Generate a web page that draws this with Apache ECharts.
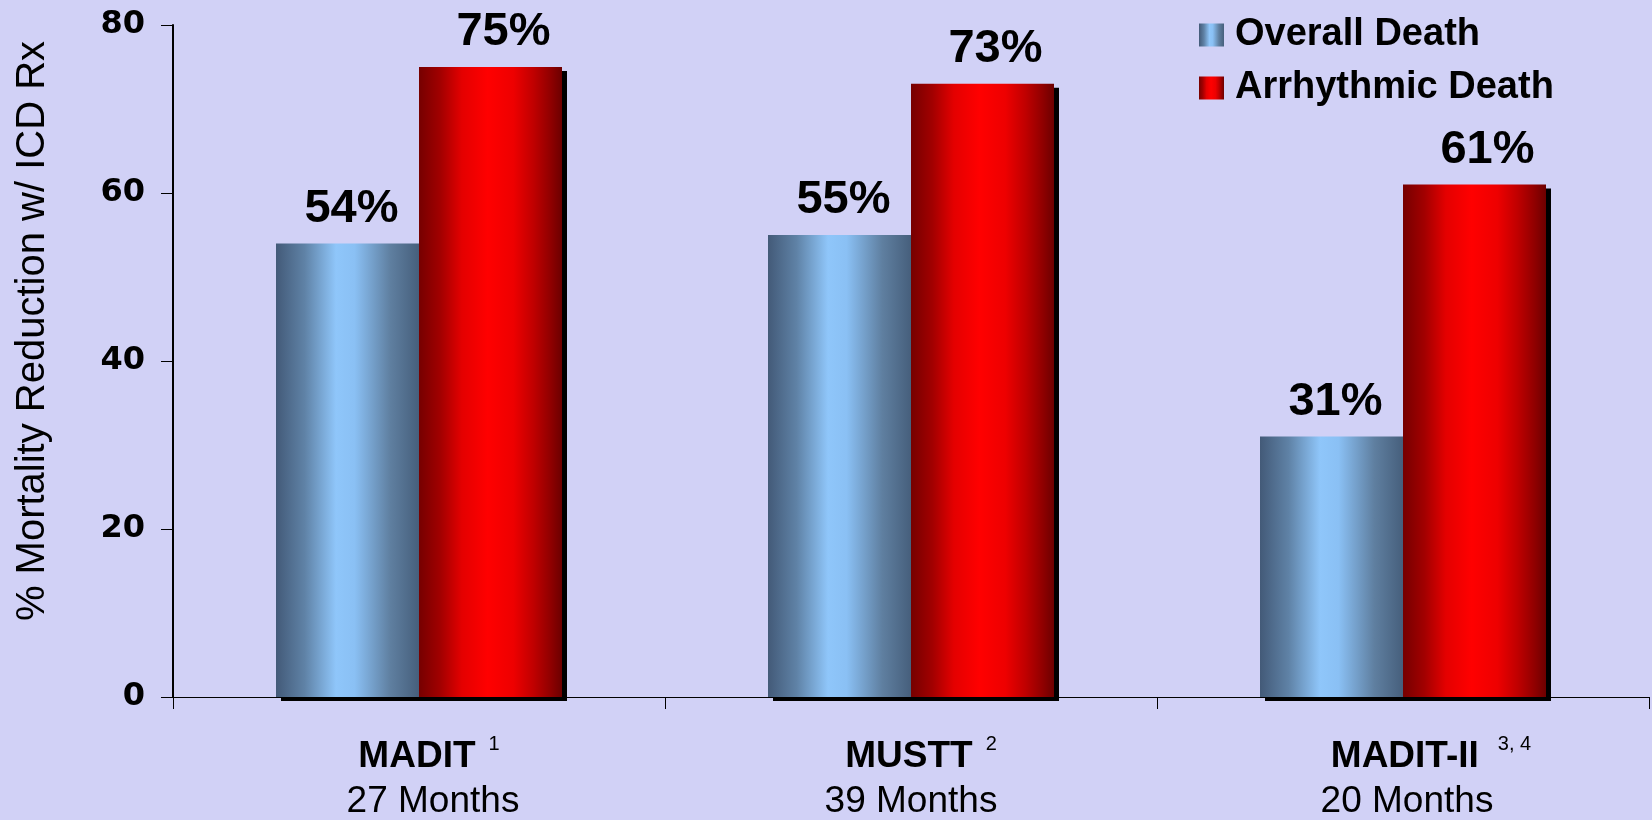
<!DOCTYPE html>
<html>
<head>
<meta charset="utf-8">
<title>ICD mortality reduction</title>
<script src="https://cdn.jsdelivr.net/npm/echarts@6/dist/echarts.min.js"></script>
<style>
  html, body { margin: 0; padding: 0; background: #d1d1f6; }
  #chart { width: 1652px; height: 820px; }
</style>
</head>
<body>
<div id="chart"></div>
<script>
// Trials, their footnote markers and follow-up periods
const trials = ['MADIT', 'MUSTT', 'MADIT-II'];
const footnotes = ['1', '2', '3, 4'];
const followUp = ['27 Months', '39 Months', '20 Months'];

// % mortality reduction with ICD therapy
const overallDeath = [54, 55, 31];
const arrhythmicDeath = [75, 73, 61];

// Value axis range
const yMin = 0;
const yMax = 80;
const yStep = 20;

// Category label layout: left padding (px) of the trial-name line and of the follow-up line
const namePad = [20, 20, 56];
const monthPad = [28, 0, 8];

const FONT = '"Liberation Sans", Arial, sans-serif';

const chart = echarts.init(document.getElementById('chart'), null, { renderer: 'canvas' });

const blueFill = new echarts.graphic.LinearGradient(0, 0, 1, 0, [
  { offset: 0, color: '#435a78' },
  { offset: 0.2, color: '#5f82a6' },
  { offset: 0.42, color: '#8fc6fa' },
  { offset: 0.55, color: '#8ac0f4' },
  { offset: 0.8, color: '#5f7fa0' },
  { offset: 1, color: '#465f7c' }
]);
const redFill = new echarts.graphic.LinearGradient(0, 0, 1, 0, [
  { offset: 0, color: '#760000' },
  { offset: 0.15, color: '#a20000' },
  { offset: 0.3, color: '#e40000' },
  { offset: 0.48, color: '#ff0000' },
  { offset: 0.66, color: '#ee0000' },
  { offset: 0.8, color: '#c00000' },
  { offset: 0.92, color: '#900000' },
  { offset: 1, color: '#6c0000' }
]);

const barShadow = {
  shadowColor: '#000000',
  shadowOffsetX: 5,
  shadowOffsetY: 4,
  shadowBlur: 0
};

function valueLabel(shiftX) {
  return {
    show: true,
    position: 'top',
    distance: 11,
    offset: [shiftX, 0],
    formatter: p => p.value + '%',
    color: '#000',
    fontFamily: FONT,
    fontWeight: 'bold',
    fontSize: 47
  };
}

// Rich styles for the two-line category labels
const rich = {
  s: { fontFamily: FONT, fontSize: 20, lineHeight: 2, verticalAlign: 'top', color: '#000', padding: [0, 0, 0, 13] },
  s2: { fontFamily: FONT, fontSize: 20, lineHeight: 2, verticalAlign: 'top', color: '#000', padding: [0, 0, 0, 19] }
};
trials.forEach((t, i) => {
  rich['b' + i] = { fontFamily: FONT, fontWeight: 'bold', fontSize: 37, lineHeight: 45, color: '#000', padding: [0, 0, 0, namePad[i]] };
  rich['m' + i] = { fontFamily: FONT, fontSize: 37, lineHeight: 45, color: '#000', padding: [0, 0, 0, monthPad[i]] };
});

chart.setOption({
  backgroundColor: '#d1d1f6',
  animation: false,
  grid: { left: 173, right: 3, top: 25, bottom: 120 },
  legend: {
    orient: 'vertical',
    left: 1194,
    top: 11,
    icon: 'rect',
    itemWidth: 25,
    itemHeight: 23,
    itemGap: 15,
    selectedMode: false,
    textStyle: {
      color: '#000',
      fontFamily: FONT,
      fontWeight: 'bold',
      fontSize: 38,
      padding: [0, 0, 0, 6]
    },
    itemStyle: { shadowBlur: 0, shadowOffsetX: 0, shadowOffsetY: 0, shadowColor: 'transparent' },
    data: ['Overall Death', 'Arrhythmic Death']
  },
  xAxis: {
    type: 'category',
    data: trials,
    boundaryGap: true,
    axisLine: { lineStyle: { color: '#000', width: 1 } },
    axisTick: { show: true, length: 12, alignWithLabel: false, lineStyle: { color: '#000', width: 1 } },
    splitLine: { show: false },
    axisLabel: {
      interval: 0,
      margin: 37,
      color: '#000',
      fontFamily: FONT,
      formatter: (value, index) =>
        '{b' + index + '|' + value + '}' +
        '{' + (footnotes[index].length > 1 ? 's2' : 's') + '|' + footnotes[index] + '}\n' +
        '{m' + index + '|' + followUp[index] + '}',
      rich: rich
    }
  },
  yAxis: {
    type: 'value',
    min: yMin,
    max: yMax,
    interval: yStep,
    name: '% Mortality Reduction w/ ICD Rx',
    nameLocation: 'middle',
    nameRotate: 90,
    nameGap: 120,
    nameTextStyle: { color: '#000', fontFamily: FONT, fontSize: 40, padding: [0, 0, 0, 60] },
    axisLine: { show: true, lineStyle: { color: '#000', width: 2 } },
    axisTick: { show: true, length: 12, lineStyle: { color: '#000', width: 1 } },
    splitLine: { show: false },
    axisLabel: {
      margin: 28,
      padding: [5, 0, 0, 0],
      color: '#000',
      fontFamily: '"DejaVu Sans", sans-serif',
      fontWeight: 'bold',
      fontSize: 32
    }
  },
  series: [
    {
      name: 'Overall Death',
      type: 'bar',
      data: overallDeath,
      barWidth: 143,
      barGap: '0%',
      itemStyle: Object.assign({ color: blueFill }, barShadow),
      label: valueLabel(4),
      emphasis: { disabled: true }
    },
    {
      name: 'Arrhythmic Death',
      type: 'bar',
      data: arrhythmicDeath,
      barWidth: 143,
      barGap: '0%',
      itemStyle: Object.assign({ color: redFill }, barShadow),
      label: valueLabel(13),
      emphasis: { disabled: true }
    }
  ]
});
</script>
</body>
</html>
